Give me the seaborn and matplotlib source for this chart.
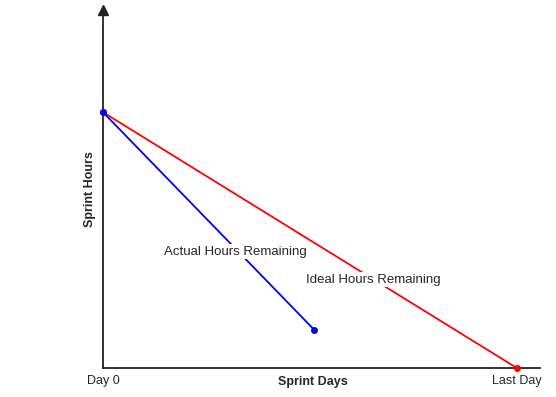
import pandas as pd
import seaborn as sns
import matplotlib.pyplot as plt

# Donnees (jours 0..10, heures 0..100)
jours_ideal = [0, 10]
heures_ideal = [100, 0]
jours_reel = [0, 5.1]
heures_reel = [100, 15]
tick_pos = [0, 10]
tick_labels = ["Day 0", "Last Day"]

sns.set_style("white")
plt.rcParams['font.family'] = ['Liberation Sans', 'DejaVu Sans']

df = pd.DataFrame({
    "jour": jours_ideal + jours_reel,
    "heures": heures_ideal + heures_reel,
    "serie": ["Ideal"] * len(jours_ideal) + ["Actual"] * len(jours_reel),
})

fig = plt.figure(figsize=(5.56, 3.97), dpi=100)
ax = fig.add_axes([0.1853, 0.073, 0.786, 0.902])

sns.lineplot(data=df, x="jour", y="heures", hue="serie",
             palette={"Ideal": "#ff0000", "Actual": "#0000ff"},
             hue_order=["Ideal", "Actual"], marker="o", markersize=5,
             markeredgewidth=0, linewidth=1.3, legend=False, ax=ax)
for ligne in ax.lines:
    ligne.set_clip_on(False)
    ligne.set_zorder(3)

ax.set_xlim(0, 10.56)
ax.set_ylim(0, 140)
ax.set_xticks(tick_pos)
ax.set_xticklabels(tick_labels, fontsize=9)
ax.set_yticks([])
ax.tick_params(axis="x", length=0, pad=5)
ax.set_xlabel("")
ax.set_ylabel("Sprint Hours", fontsize=9, fontweight="bold", labelpad=5)
ax.text(0.48, -0.04, "Sprint Days", transform=ax.transAxes, ha="center",
        va="center", fontsize=9, fontweight="bold")

for s in ["top", "right"]:
    ax.spines[s].set_visible(False)
for s in ["left", "bottom"]:
    ax.spines[s].set_color("#222222")
    ax.spines[s].set_linewidth(1.3)

# fleche en haut de l'axe vertical
ax.plot(0, 1, "^", color="#222222", markersize=7,
        transform=ax.get_xaxis_transform(), clip_on=False)

boite = dict(facecolor="white", edgecolor="none", pad=1)
ax.text(3.21, 45.5, "Actual Hours Remaining", ha="center", va="center",
        fontsize=9.5, bbox=boite, zorder=4)
ax.text(6.52, 34.5, "Ideal Hours Remaining", ha="center", va="center",
        fontsize=9.5, bbox=boite, zorder=4)

fig.savefig("out.png", dpi=100)
